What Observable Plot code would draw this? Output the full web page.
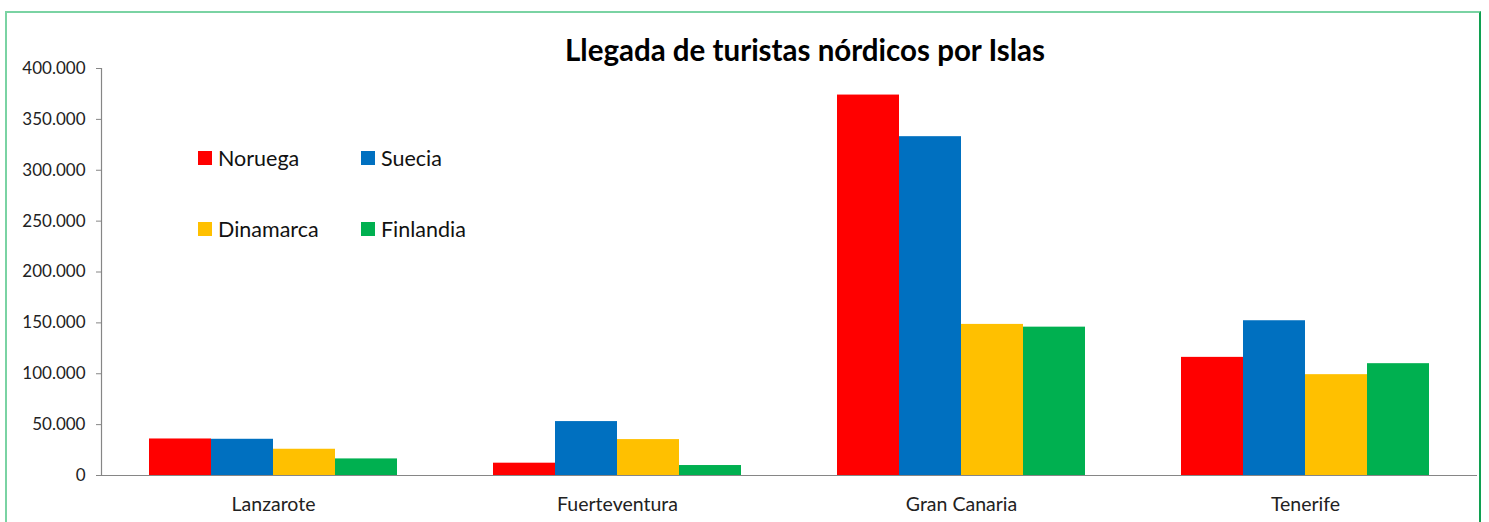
<!DOCTYPE html>
<html>
<head>
<meta charset="utf-8">
<script src="https://cdn.jsdelivr.net/npm/d3@7"></script>
<script src="https://cdn.jsdelivr.net/npm/@observablehq/plot@0.6"></script>
<style>
  html, body { margin: 0; padding: 0; background: #fff; }
  #wrap { position: relative; width: 1489px; height: 522px; overflow: hidden; background: #fff; font-family: Lato, "Open Sans", sans-serif; }
  #border { position: absolute; left: 5px; top: 11px; width: 1476px; height: 600px; border-style: solid; border-width: 2px; border-color: #7ad3a3 #10a050 #7ad3a3 #7ad3a3; box-sizing: border-box; }
  #title { position: absolute; left: 805px; top: 35px; transform: translateX(-50%); font-size: 29.5px; line-height: 29.5px; font-weight: bold; color: #000; white-space: nowrap; }
  #legend { position: absolute; left: 198px; top: 146px; display: grid; grid-template-columns: 163px 163px; grid-auto-rows: 71px; }
  .item { display: flex; align-items: center; height: 24px; font-size: 21.5px; color: #111; }
  .sw { width: 14px; height: 14px; margin-right: 6px; flex: none; }
  #chart { position: absolute; left: 0; top: 0; }
</style>
</head>
<body>
<div id="wrap">
  <div id="border"></div>
  <div id="chart"></div>
  <div id="title">Llegada de turistas nórdicos por Islas</div>
  <div id="legend"></div>
</div>
<script>
const islands = ["Lanzarote", "Fuerteventura", "Gran Canaria", "Tenerife"];
const countries = ["Noruega", "Suecia", "Dinamarca", "Finlandia"];
const noruega = [35900, 12100, 373900, 116100];
const suecia = [35600, 53000, 333000, 152100];
const dinamarca = [25800, 35300, 148500, 99100];
const finlandia = [16300, 9800, 145800, 109900];
const colors = ["#ff0000", "#0070c0", "#ffc000", "#00b050"];
const yTicks = [0, 50000, 100000, 150000, 200000, 250000, 300000, 350000, 400000];

const series = [noruega, suecia, dinamarca, finlandia];
const data = [];
islands.forEach((isla, i) => {
  countries.forEach((pais, j) => {
    data.push({isla, pais, valor: series[j][i]});
  });
});

const fmt = d => d === 0 ? "0" : d3.format(",")(d).replace(/,/g, ".");

const chart = Plot.plot({
  width: 1489,
  height: 522,
  marginLeft: 100,
  marginRight: 11,
  marginTop: 68,
  marginBottom: 47,
  style: {fontFamily: "Lato, 'Open Sans', sans-serif", fontSize: "17px", color: "#222", background: "transparent"},
  fx: {domain: islands, paddingInner: 0, paddingOuter: 0, label: null, axis: "bottom", tickSize: 0, tickPadding: 22},
  x: {domain: countries, paddingInner: 0, paddingOuter: 0.756, axis: null},
  y: {domain: [0, 400000], ticks: yTicks, tickFormat: fmt, tickSize: 5, tickPadding: 11, label: null},
  color: {domain: countries, range: colors},
  marks: [
    Plot.barY(data, {fx: "isla", x: "pais", y: "valor", fill: "pais"}),
    Plot.ruleY([0], {stroke: "#868686", strokeWidth: 1.2}),
    Plot.frame({anchor: "left", facetAnchor: "left", stroke: "#868686", strokeWidth: 1.2})
  ]
});
chart.querySelectorAll("g[aria-label='y-axis tick'] path, g[aria-label='y-axis tick'] line").forEach(e => e.setAttribute("stroke", "#868686"));
chart.querySelectorAll("g[aria-label='fx-axis tick label']").forEach(g => g.setAttribute("font-size", "19.5px"));
document.getElementById("chart").appendChild(chart);

const legend = document.getElementById("legend");
countries.forEach((c, i) => {
  const item = document.createElement("div");
  item.className = "item";
  const sw = document.createElement("span");
  sw.className = "sw";
  sw.style.background = colors[i];
  const t = document.createElement("span");
  t.textContent = c;
  item.appendChild(sw);
  item.appendChild(t);
  legend.appendChild(item);
});
</script>
</body>
</html>
